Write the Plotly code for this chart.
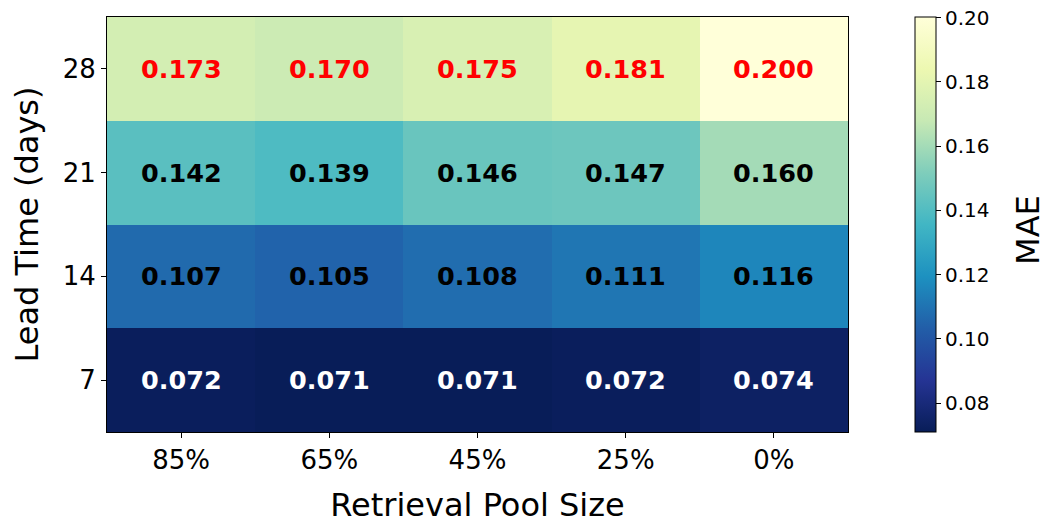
import plotly.graph_objects as go

pool_sizes = ["85%", "65%", "45%", "25%", "0%"]
lead_times = ["7", "14", "21", "28"]
mae_7 = [0.072, 0.071, 0.071, 0.072, 0.074]
mae_14 = [0.107, 0.105, 0.108, 0.111, 0.116]
mae_21 = [0.142, 0.139, 0.146, 0.147, 0.160]
mae_28 = [0.173, 0.170, 0.175, 0.181, 0.200]
row_text_colors = ["white", "black", "black", "red"]
cbar_ticks = [0.08, 0.10, 0.12, 0.14, 0.16, 0.18, 0.20]

z = [mae_7, mae_14, mae_21, mae_28]

ylgnbu_r = [
    [0.0, "rgb(8,29,88)"], [0.125, "rgb(37,52,148)"], [0.25, "rgb(34,94,168)"],
    [0.375, "rgb(29,145,192)"], [0.5, "rgb(65,182,196)"], [0.625, "rgb(127,205,187)"],
    [0.75, "rgb(199,233,180)"], [0.875, "rgb(237,248,177)"], [1.0, "rgb(255,255,217)"],
]

font_family = "DejaVu Sans"
zmin = min(min(r) for r in z)
zmax = max(max(r) for r in z) + 2e-4

fig = go.Figure(go.Heatmap(
    z=z, x=pool_sizes, y=lead_times,
    colorscale=ylgnbu_r, zmin=zmin, zmax=zmax,
    xgap=0, ygap=0,
    colorbar=dict(
        x=1.0904, xanchor="left", xref="paper",
        y=0, yanchor="bottom", yref="paper", len=1, lenmode="fraction",
        thickness=21, outlinecolor="black", outlinewidth=1, xpad=0, ypad=0,
        tickmode="array",
        tickvals=cbar_ticks,
        ticktext=[f"{t:.2f}" for t in cbar_ticks],
        ticks="outside", ticklen=5, tickcolor="black",
        ticklabeloverflow="allow",
        tickfont=dict(size=20, color="black", family=font_family),
    ),
))

annotations = []
for i, row in enumerate(z):
    for j, v in enumerate(row):
        annotations.append(dict(
            x=j, y=i, text=f"<b>{v:.3f}</b>", showarrow=False,
            font=dict(size=25.5, color=row_text_colors[i], family=font_family),
        ))
annotations.append(dict(
    x=1.2430, y=0.487, xref="paper", yref="paper", text="MAE", showarrow=False,
    textangle=-90, xanchor="center", yanchor="middle", height=28,
    font=dict(size=32, color="black", family=font_family),
))

fig.update_layout(
    width=1037, height=516,
    margin=dict(l=99, r=197, t=9, b=92, autoexpand=False),
    paper_bgcolor="white", plot_bgcolor="white",
    annotations=annotations,
    font=dict(family=font_family, color="black"),
    xaxis=dict(
        type="category", automargin=False,
        title=dict(text="Retrieval Pool Size", font=dict(size=32, color="black"), standoff=19),
        tickfont=dict(size=26, color="black"),
        ticks="outside", ticklen=5, tickcolor="black",
        showline=True, linecolor="black", linewidth=1, mirror=True,
        showgrid=False, zeroline=False,
    ),
    yaxis=dict(
        type="category", automargin=False,
        title=dict(text="Lead Time (days)", font=dict(size=32, color="black"), standoff=16),
        tickfont=dict(size=26, color="black"),
        ticks="outside", ticklen=5, tickcolor="black",
        showline=True, linecolor="black", linewidth=1, mirror=True,
        showgrid=False, zeroline=False,
    ),
)

fig.write_html("out.html")
